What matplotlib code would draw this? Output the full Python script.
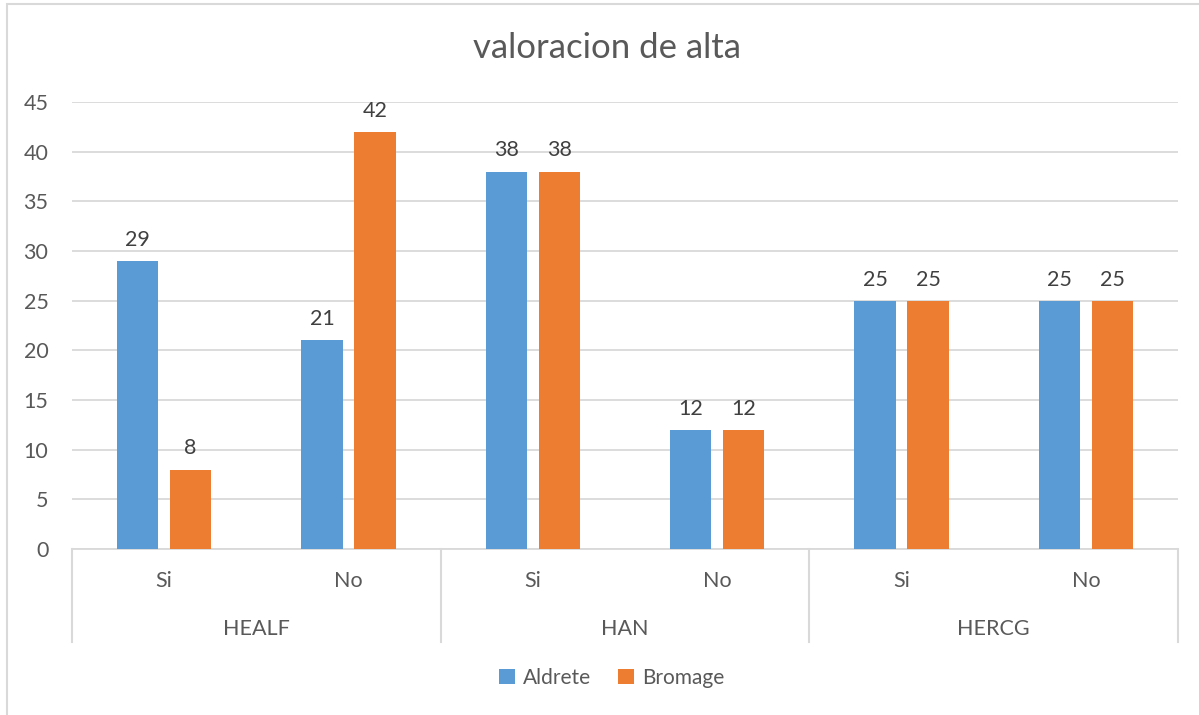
import numpy as np
import matplotlib.pyplot as plt
from matplotlib.patches import Rectangle

plt.rcParams['font.family'] = ['Lato', 'DejaVu Sans']

# datos
grupos = ["HEALF", "HAN", "HERCG"]
respuestas = ["Si", "No", "Si", "No", "Si", "No"]
aldrete = [29, 21, 38, 12, 25, 25]
bromage = [8, 42, 38, 12, 25, 25]

azul = "#5B9BD5"
naranja = "#ED7D31"
gris_texto = "#595959"
gris_linea = "#D9D9D9"

fig = plt.figure(figsize=(11.99, 7.15), dpi=100)
ax = fig.add_axes([72 / 1199, 1 - 549 / 715, (1178 - 72) / 1199, (549 - 102) / 715])

# marco del grafico
fig.patches.append(Rectangle((7 / 1199, -0.05), 1.1, 1 - 4 / 715 + 0.05,
                             transform=fig.transFigure, fill=False,
                             edgecolor=gris_linea, linewidth=1.5))

x = np.arange(len(respuestas))
ancho = 0.225
desp = 0.1438

b1 = ax.bar(x - desp, aldrete, ancho, color=azul, label="Aldrete", zorder=3)
b2 = ax.bar(x + desp, bromage, ancho, color=naranja, label="Bromage", zorder=3)

for barras in (b1, b2):
    ax.bar_label(barras, padding=8, fontsize=15.5, color="#404040")

ax.set_xlim(-0.5, len(respuestas) - 0.5)
ax.set_ylim(0, 45)
ax.set_yticks(np.arange(0, 46, 5))
ax.yaxis.grid(True, color=gris_linea, linewidth=1.3, zorder=0)
ax.tick_params(axis="y", length=0, pad=17, labelsize=15.5, labelcolor=gris_texto)

for lado in ["top", "right", "left"]:
    ax.spines[lado].set_visible(False)
ax.spines["bottom"].set_color(gris_linea)
ax.spines["bottom"].set_linewidth(1.3)

ax.set_xticks(x)
ax.set_xticklabels(respuestas)
ax.tick_params(axis="x", length=0, pad=16, labelsize=15.5, labelcolor=gris_texto)

# etiquetas de grupo y separadores
trans = ax.get_xaxis_transform()
for i, g in enumerate(grupos):
    ax.text(2 * i + 0.5, -0.178, g, transform=trans, ha="center", va="center",
            fontsize=15.5, color=gris_texto)
for s in [-0.5, 1.5, 3.5, 5.5]:
    ax.plot([s, s], [0, -0.208], transform=trans, color=gris_linea,
            linewidth=1.5, clip_on=False)

fig.text(607 / 1199, 1 - 48 / 715, "valoracion de alta", ha="center", va="center",
         fontsize=25, color=gris_texto)

fig.legend(loc="center", bbox_to_anchor=(612 / 1199, 1 - 678 / 715), ncol=2,
           frameon=False, fontsize=15, labelcolor=gris_texto,
           handlelength=0.75, handleheight=0.75, columnspacing=1.3, handletextpad=0.4)

fig.savefig("out.png", dpi=100)
